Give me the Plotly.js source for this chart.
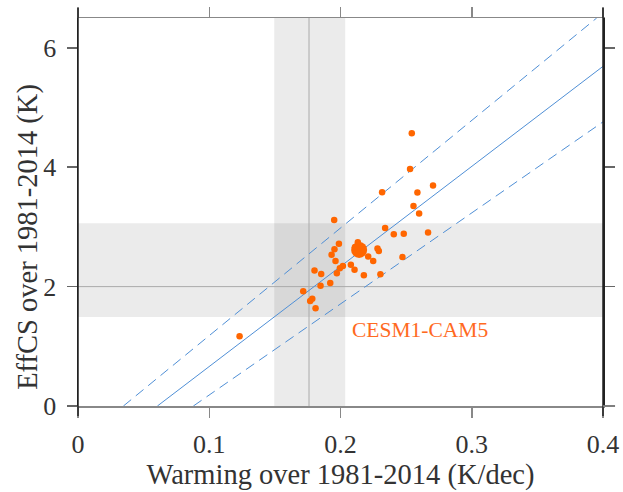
<!DOCTYPE html>
<html>
<head>
<meta charset="utf-8">
<script src="https://cdn.plot.ly/plotly-3.0.1.min.js"></script>
<style>html,body{margin:0;padding:0;background:#fff;}#chart{width:623px;height:492px;}</style>
</head>
<body>
<div id="chart"></div>
<script>
// Model values: warming trend (K/dec) and EffCS (K)
const warming = [0.2543,0.2530,0.2317,0.2586,0.2705,0.2556,0.2599,0.1952,0.2340,0.2406,0.2482,0.2667,
  0.1988,0.1954,0.1932,0.1962,0.2018,0.1995,0.1972,0.2079,0.2107,0.2178,0.2304,0.2211,0.2249,0.2282,
  0.2292,0.2472,0.1802,0.1853,0.1922,0.1848,0.1716,0.1785,0.1769,0.1810,0.1231,0.2132,0.2110];
const effcs = [4.571,3.970,3.581,3.576,3.693,3.352,3.225,3.118,2.984,2.879,2.884,2.907,
  2.717,2.628,2.533,2.428,2.344,2.306,2.222,2.366,2.282,2.189,2.206,2.506,2.428,2.640,
  2.595,2.495,2.272,2.211,2.060,2.015,1.921,1.798,1.759,1.637,1.170,2.745,2.660];
// Highlighted model
const cesmName = "CESM1-CAM5";
const cesmX = [0.2142];
const cesmY = [2.615];
// Regression line and bounds
const fitX = [0.0605, 0.4];
const fitY = [0, 5.69];
const upperX = [0.0346, 0.3952];
const upperY = [0, 6.5];
const lowerX = [0.0879, 0.4];
const lowerY = [0, 4.76];
// Observational estimates
const obsWarming = 0.176;
const obsWarmingRange = [0.1495, 0.2036];
const obsEffcs = 2.0;
const obsEffcsRange = [1.49, 3.06];
const xTicks = [0, 0.1, 0.2, 0.3, 0.4];
const xTickText = ["0", "0.1", "0.2", "0.3", "0.4"];
const yTicks = [0, 2, 4, 6];
const yTickText = ["0", "2", "4", "6"];
const xTitle = 'Warming over 1981-2014 (K/dec)';
const yTitle = 'EffCS over 1981-2014 (K)';

const blue = '#4f8fd6';
const orange = '#ff6600';
const serif = 'Liberation Serif, Times New Roman, serif';

const traces = [
  {x: upperX, y: upperY, mode: 'lines', line: {color: blue, width: 1, dash: '10px,6px'}, hoverinfo: 'skip'},
  {x: fitX, y: fitY, mode: 'lines', line: {color: blue, width: 1}, hoverinfo: 'skip'},
  {x: lowerX, y: lowerY, mode: 'lines', line: {color: blue, width: 1, dash: '10px,6px'}, hoverinfo: 'skip'},
  {x: cesmX, y: cesmY, mode: 'markers', marker: {color: orange, size: 16}},
  {x: warming, y: effcs, mode: 'markers', marker: {color: orange, size: 6.5}}
];

const shapes = [
  {type: 'rect', xref: 'x', yref: 'y', x0: obsWarmingRange[0], x1: obsWarmingRange[1], y0: 0, y1: 6.5,
   fillcolor: 'rgba(0,0,0,0.08)', line: {width: 0}, layer: 'below'},
  {type: 'rect', xref: 'x', yref: 'y', x0: 0, x1: 0.4, y0: obsEffcsRange[0], y1: obsEffcsRange[1],
   fillcolor: 'rgba(0,0,0,0.08)', line: {width: 0}, layer: 'below'},
  {type: 'line', xref: 'x', yref: 'y', x0: obsWarming, x1: obsWarming, y0: 0, y1: 6.5,
   line: {color: '#aaaaaa', width: 1}, layer: 'below'},
  {type: 'line', xref: 'x', yref: 'y', x0: 0, x1: 0.4, y0: obsEffcs, y1: obsEffcs,
   line: {color: '#aaaaaa', width: 1}, layer: 'below'},
  {type: 'line', xref: 'paper', yref: 'paper', x0: 0, x1: 0, y0: -0.026, y1: 1.026,
   line: {color: '#222222', width: 1.5}},
  {type: 'line', xref: 'paper', yref: 'paper', x0: 1, x1: 1, y0: -0.026, y1: 1.026,
   line: {color: '#222222', width: 1.5}},
  {type: 'line', xref: 'paper', yref: 'paper', x0: 1, x1: 1.023, y0: 0, y1: 0,
   line: {color: '#888888', width: 1.5}}
];

const layout = {
  width: 623, height: 492,
  margin: {l: 77.5, r: 20, t: 17.5, b: 85.7},
  paper_bgcolor: '#ffffff', plot_bgcolor: '#ffffff',
  showlegend: false,
  font: {family: serif, color: '#333333'},
  xaxis: {
    range: [0, 0.4], tickvals: xTicks, ticktext: xTickText,
    showgrid: false, zeroline: false,
    showline: true, linecolor: '#888888', linewidth: 1.5, mirror: 'ticks',
    ticks: 'outside', ticklen: 10, tickcolor: '#888888', tickwidth: 1.5,
    tickfont: {family: serif, size: 26, color: '#333333'},
    ticklabelstandoff: 4,
    title: {text: xTitle, font: {family: serif, size: 28.5, color: '#333333'}, standoff: 2}
  },
  yaxis: {
    range: [0, 6.5], tickvals: yTicks, ticktext: yTickText,
    showgrid: false, zeroline: false,
    showline: true, linecolor: '#222222', linewidth: 1.5, mirror: 'ticks',
    ticks: 'outside', ticklen: 10, tickcolor: '#666666', tickwidth: 1.5,
    tickfont: {family: serif, size: 26, color: '#333333'},
    ticklabelstandoff: 5
  },
  shapes: shapes,
  annotations: [
    {x: 0.2075, y: 1.275, xref: 'x', yref: 'y', text: cesmName, showarrow: false,
     xanchor: 'left', yanchor: 'middle', font: {family: serif, size: 21.5, color: '#ff6a1f'}},
    {x: -0.094, y: 0.435, xref: 'paper', yref: 'paper', text: yTitle, showarrow: false,
     textangle: -90, xanchor: 'center', yanchor: 'middle', font: {family: serif, size: 28.5, color: '#333333'}}
  ]
};

Plotly.newPlot('chart', traces, layout, {displayModeBar: false, staticPlot: true});
</script>
</body>
</html>
